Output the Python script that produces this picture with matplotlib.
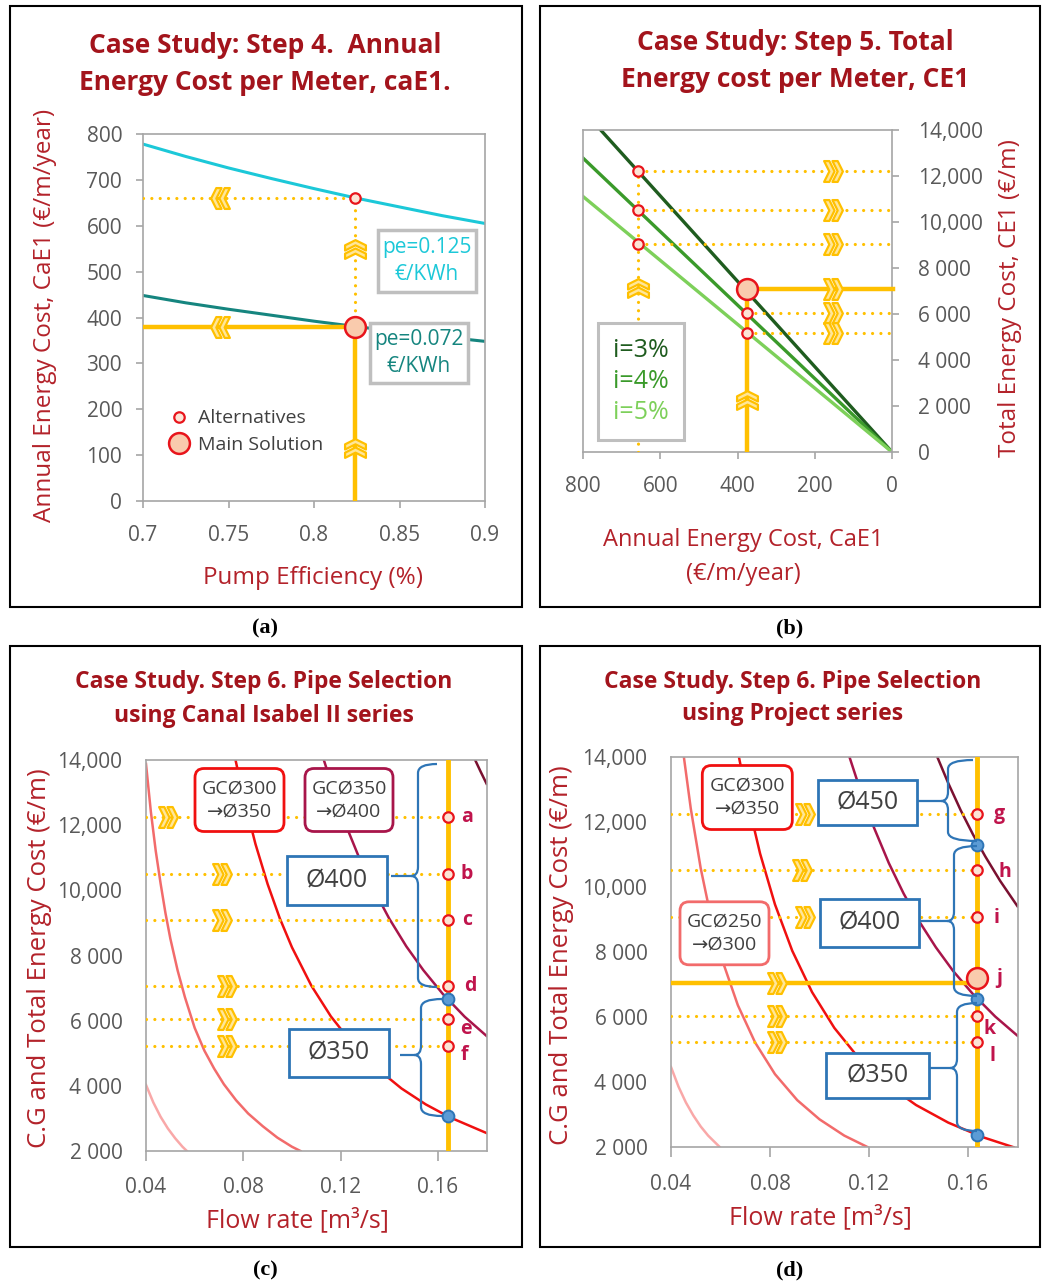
import matplotlib
matplotlib.use("Agg")
import matplotlib.pyplot as plt
from matplotlib.path import Path
from matplotlib.patches import FancyBboxPatch, PathPatch, Rectangle

plt.rcParams['font.family'] = ['Open Sans', 'DejaVu Sans']

W, H = 1042, 1283

# ---------------- data (a): annual energy cost vs pump efficiency
eff = [0.700, 0.725, 0.750, 0.775, 0.800, 0.825, 0.850, 0.875, 0.900]
cae_pe125 = [778, 751, 726, 703, 681, 660, 641, 622, 605]
cae_pe072 = [448, 432, 418, 405, 392, 380, 369, 358, 348]
eff_sel = 0.824
cae_alt = 660
cae_main = 380
chev_a_left_x = 0.745
chev_a_up_y = [550, 115]

# ---------------- data (b): total energy cost vs annual energy cost
cae_axis = [800, 0]
ce_i3 = [14850, 0]
ce_i4 = [12780, 0]
ce_i5 = [11110, 0]
cae_alt_b = 657
ce_alt_b = [12230, 10510, 9050]
cae_main_b = 376
ce_main_b = 7080
ce_sel_b = [6040, 5190]
chev_b_right_x = 153
chev_b_up = [(657, 7130), (376, 2260)]

# ---------------- data (c): Canal Isabel II series
q_c1 = [0.040, 0.043, 0.046, 0.049, 0.052, 0.055, 0.0568]
v_c1 = [4030, 3490, 3050, 2690, 2390, 2130, 2000]
q_c2 = [0.040, 0.042, 0.044, 0.046, 0.048, 0.050, 0.053, 0.056, 0.060, 0.064, 0.068, 0.072,
        0.077, 0.082, 0.088, 0.094, 0.1000, 0.1035]
v_c2 = [13880, 12410, 11210, 10210, 9300, 8520, 7540, 6720, 5780, 5080, 4530, 4050,
        3560, 3150, 2760, 2410, 2130, 2000]
q_c3 = [0.0768, 0.080, 0.085, 0.090, 0.095, 0.100, 0.108, 0.116, 0.125, 0.135, 0.145, 0.155, 0.165, 0.180]
v_c3 = [14000, 12890, 11420, 10190, 9140, 8250, 7070, 6130, 5280, 4530, 3920, 3430, 3030, 2550]
q_c4 = [0.1131, 0.117, 0.122, 0.128, 0.134, 0.140, 0.147, 0.154, 0.162, 0.171, 0.180]
v_c4 = [14000, 13080, 12030, 10930, 9970, 9130, 8280, 7550, 6820, 6120, 5530]
q_c5 = [0.1753, 0.1775, 0.180]
v_c5 = [14000, 13650, 13270]
q_sel_c = 0.164
v_pts_c = [12250, 10500, 9080, 7060, 6050, 5230]
lab_pts_c = ['a', 'b', 'c', 'd', 'e', 'f']
v_blue_c = [6660, 3080]
chev_c_x = [0.049, 0.0711, 0.0711, 0.0734, 0.0734, 0.0734]

# ---------------- data (d): Project series
q_d1 = [0.040, 0.043, 0.046, 0.049, 0.052, 0.055, 0.0598]
v_d1 = [4470, 3870, 3380, 2980, 2640, 2360, 2000]
q_d2 = [0.0452, 0.048, 0.052, 0.056, 0.061, 0.067, 0.074, 0.082, 0.091, 0.100, 0.110, 0.1196]
v_d2 = [14000, 12410, 10580, 9120, 7690, 6370, 5220, 4250, 3450, 2860, 2360, 2000]
q_d3 = [0.0675, 0.071, 0.076, 0.082, 0.089, 0.097, 0.106, 0.116, 0.127, 0.139, 0.152, 0.166, 0.1785]
v_d3 = [13980, 12640, 11030, 9470, 8040, 6770, 5670, 4730, 3950, 3300, 2760, 2310, 2000]
q_d4 = [0.1122, 0.117, 0.122, 0.128, 0.134, 0.140, 0.147, 0.154, 0.162, 0.171, 0.180]
v_d4 = [13980, 12860, 11830, 10740, 9800, 8980, 8150, 7420, 6710, 6020, 5430]
q_d5 = [0.1476, 0.152, 0.157, 0.162, 0.167, 0.173, 0.180]
v_d5 = [14000, 13200, 12370, 11620, 10940, 10190, 9410]
q_sel_d = 0.1636
v_pts_d = [12250, 10520, 9080, 6050, 5230]
lab_pts_d = ['g', 'h', 'i', 'k', 'l']
v_main_d = 7200
v_main_line_d = 7040
v_blue_d = [11290, 6560, 2390]
chev_d_x = [0.0941, 0.0929, 0.0941, 0.0827, 0.0827]
chev_d_main_x = 0.0827

ytick_vals = [0, 2000, 4000, 6000, 8000, 10000, 12000, 14000]
ytick_labs = ['0', '2 000', '4 000', '6 000', '8 000', '10,000', '12,000', '14,000']

# ---------------- styles
GOLD = '#FFC000'
RED = '#E8141B'
ALT_FC = '#FCE4D6'
MAIN_FC = '#F9CBAD'
BLUE_FC = '#5B9BD5'
BLUE = '#2E75B6'
TITLE_C = '#A3141C'
LABEL_C = '#B3222A'
TICK_C = '#595959'
SPINE_C = '#A6A6A6'
LETTER_C = '#C0144C'
DOT = (0, (0.01, 2.6))

fig = plt.figure(figsize=(W / 100, H / 100), dpi=100)
fig.patch.set_facecolor('white')


def P(x, y):
    return x / W, 1 - y / H


def I(x, y):
    return x / 100, (H - y) / 100


def axes_px(l, t, r, b):
    return fig.add_axes([l / W, 1 - b / H, (r - l) / W, (b - t) / H])


def chevron(direction):
    base = [(-0.5, 1), (0.0, 1), (0.5, 0), (0.0, -1), (-0.5, -1), (0.0, 0)]
    verts, codes = [], []
    for dx in (-0.4, 0.4):
        pts = [(x + dx, y) for x, y in base]
        if direction == 'left':
            pts = [(-x, y) for x, y in pts]
        elif direction == 'up':
            pts = [(y, x) for x, y in pts]
        verts += pts + [pts[0]]
        codes += [Path.MOVETO] + [Path.LINETO] * 5 + [Path.CLOSEPOLY]
    return Path(verts, codes)


def chev(ax, x, y, direction):
    ax.plot(x, y, linestyle='none', marker=chevron(direction), ms=15,
            mfc='#FFE699', mec=GOLD, mew=1.6, zorder=6)


def style(ax):
    for s in ax.spines.values():
        s.set_color(SPINE_C)
        s.set_linewidth(1.2)
    ax.tick_params(colors=SPINE_C, labelcolor=TICK_C, labelsize=15, length=5, width=1.2)


def dotted(ax, x, y):
    ax.plot(x, y, color=GOLD, lw=2.3, linestyle=DOT, dash_capstyle='round', zorder=3)


def box(cx, cy, w, h, text, ec, tc, fs, rounded=False, lw=2):
    bs = 'round,pad=0,rounding_size=0.09' if rounded else 'square,pad=0'
    x0, y0 = I(cx - w / 2, cy + h / 2)
    fig.add_artist(FancyBboxPatch((x0, y0), w / 100, h / 100, boxstyle=bs,
                                  transform=fig.dpi_scale_trans, fc='white',
                                  ec=ec, lw=lw, zorder=5))
    fig.text(*P(cx, cy), text, ha='center', va='center', color=tc, fontsize=fs,
             linespacing=1.35, zorder=6)


def brace(xs, yt, yb, ytip, xht, xhb, xline, r=9, tip=7):
    pts = [(xht, yt), (xs, yt), (xs, yt + r), (xs, ytip - r), (xs, ytip), (xs - tip, ytip),
           (xline, ytip), (xs - tip, ytip), (xs, ytip), (xs, ytip + r), (xs, yb - r),
           (xs, yb), (xhb, yb)]
    codes = [Path.MOVETO, Path.CURVE3, Path.CURVE3, Path.LINETO, Path.CURVE3, Path.CURVE3,
             Path.LINETO, Path.MOVETO, Path.CURVE3, Path.CURVE3, Path.LINETO,
             Path.CURVE3, Path.CURVE3]
    path = Path([I(x, y) for x, y in pts], codes)
    fig.add_artist(PathPatch(path, transform=fig.dpi_scale_trans, fill=False,
                             ec=BLUE, lw=1.6, zorder=4))


# ---------------- frames, titles, captions
for l, t, r, b in [(10, 6, 522, 607), (540, 6, 1040, 607), (10, 646, 522, 1247), (540, 646, 1040, 1247)]:
    fig.add_artist(Rectangle(I(l, b), (r - l) / 100, (b - t) / 100, transform=fig.dpi_scale_trans,
                             fill=False, ec='black', lw=1.5, zorder=0))

fig.text(*P(265, 64), 'Case Study: Step 4.  Annual\nEnergy Cost per Meter, caE1.', ha='center',
         va='center', color=TITLE_C, fontsize=19, fontweight='bold', linespacing=1.5)
fig.text(*P(795, 61), 'Case Study: Step 5. Total\nEnergy cost per Meter, CE1', ha='center',
         va='center', color=TITLE_C, fontsize=19, fontweight='bold', linespacing=1.5)
fig.text(*P(264, 699), 'Case Study. Step 6. Pipe Selection\nusing Canal Isabel II series', ha='center',
         va='center', color=TITLE_C, fontsize=16.5, fontweight='bold', linespacing=1.5)
fig.text(*P(793, 698), 'Case Study. Step 6. Pipe Selection\nusing Project series', ha='center',
         va='center', color=TITLE_C, fontsize=16.5, fontweight='bold', linespacing=1.5)

for (cx, cy), lab in zip([(265, 628), (790, 628), (265, 1270), (790, 1270)], 'abcd'):
    fig.text(*P(cx, cy), '(' + lab + ')', ha='center', va='center', fontsize=16,
             fontweight='bold', family='Liberation Serif')

# ---------------- panel (a)
ax = axes_px(143, 134, 485, 501)
style(ax)
ax.plot(eff, cae_pe125, color='#1CC8D8', lw=2.2, zorder=2)
ax.plot(eff, cae_pe072, color='#15857F', lw=2.2, zorder=2)
dotted(ax, [0.7, eff_sel], [cae_alt, cae_alt])
dotted(ax, [eff_sel, eff_sel], [cae_main, cae_alt])
ax.plot([0.7, eff_sel], [cae_main, cae_main], color=GOLD, lw=3.2, zorder=3)
ax.plot([eff_sel, eff_sel], [0, cae_main], color=GOLD, lw=3.2, zorder=3)
chev(ax, [chev_a_left_x] * 2, [cae_alt, cae_main], 'left')
chev(ax, [eff_sel] * 2, chev_a_up_y, 'up')
h_alt, = ax.plot([eff_sel], [cae_alt], 'o', ms=7.5, mfc=ALT_FC, mec=RED, mew=1.6, zorder=7,
                 label='Alternatives')
h_main, = ax.plot([eff_sel], [cae_main], 'o', ms=15, mfc=MAIN_FC, mec=RED, mew=1.8, zorder=7,
                  label='Main Solution')
ax.set_xlim(0.7, 0.9)
ax.set_ylim(0, 800)
ax.set_xticks([0.7, 0.75, 0.8, 0.85, 0.9], ['0.7', '0.75', '0.8', '0.85', '0.9'])
ax.set_yticks(range(0, 801, 100))
ax.tick_params(axis='x', pad=12)
ax.tick_params(axis='y', pad=10)
leg = ax.legend(handles=[h_alt, h_main], loc='lower left', bbox_to_anchor=(0.02, 0.08),
                frameon=False, fontsize=14, handlelength=1.2, handletextpad=0.4,
                labelspacing=0.45, labelcolor='#404040', numpoints=1)
box(427, 261, 98, 62, 'pe=0.125\n€/KWh', '#BFBFBF', '#1CC8D8', 15, lw=2.5)
box(419, 353, 98, 60, 'pe=0.072\n€/KWh', '#BFBFBF', '#15857F', 15, lw=2.5)
fig.text(*P(45, 315), 'Annual Energy Cost, CaE1 (€/m/year)', rotation=90, ha='center',
         va='center', color=LABEL_C, fontsize=17.5)
fig.text(*P(313, 578), 'Pump Efficiency (%)', ha='center', va='center', color=LABEL_C, fontsize=17.5)

# ---------------- panel (b)
ax = axes_px(583, 130, 892, 452)
style(ax)
l3, = ax.plot(cae_axis, ce_i3, color='#1F5C1F', lw=2.4, label='i=3%', zorder=2)
l4, = ax.plot(cae_axis, ce_i4, color='#3A9A2A', lw=2.4, label='i=4%', zorder=2)
l5, = ax.plot(cae_axis, ce_i5, color='#7DD05A', lw=2.4, label='i=5%', zorder=2)
dotted(ax, [cae_alt_b, cae_alt_b], [0, ce_alt_b[0]])
for v in ce_alt_b:
    dotted(ax, [cae_alt_b, 0], [v, v])
for v in ce_sel_b:
    dotted(ax, [cae_main_b, 0], [v, v])
ax.plot([cae_main_b, cae_main_b], [0, ce_main_b], color=GOLD, lw=3.2, zorder=3)
ax.plot([cae_main_b, -3], [ce_main_b, ce_main_b], color=GOLD, lw=3.2, zorder=3, clip_on=False)
chev(ax, [chev_b_right_x] * 6, ce_alt_b + [ce_main_b] + ce_sel_b, 'right')
chev(ax, [p[0] for p in chev_b_up], [p[1] for p in chev_b_up], 'up')
ax.plot([cae_alt_b] * 3, ce_alt_b, 'o', ms=7.5, mfc=ALT_FC, mec=RED, mew=1.6, zorder=7)
ax.plot([cae_main_b] * 2, ce_sel_b, 'o', ms=7.5, mfc=ALT_FC, mec=RED, mew=1.6, zorder=7)
ax.plot([cae_main_b], [ce_main_b], 'o', ms=15, mfc=MAIN_FC, mec=RED, mew=1.8, zorder=7)
ax.set_xlim(800, 0)
ax.set_ylim(0, 14000)
ax.set_xticks([800, 600, 400, 200, 0])
ax.set_yticks(ytick_vals, ytick_labs)
ax.yaxis.tick_right()
ax.tick_params(axis='x', pad=12)
ax.tick_params(axis='y', pad=14)
leg = ax.legend(handles=[l3, l4, l5], loc='lower left', bbox_to_anchor=(0.049, 0.037),
                borderaxespad=0, fontsize=18, handlelength=0, handletextpad=0,
                labelcolor='linecolor', fancybox=False, edgecolor='#BFBFBF',
                borderpad=0.6, labelspacing=0.25, framealpha=1)
leg.get_frame().set_linewidth(2.2)
leg.set_zorder(8)
fig.text(*P(743, 557), 'Annual Energy Cost, CaE1\n(€/m/year)', ha='center', va='center',
         color=LABEL_C, fontsize=17, linespacing=1.5)
fig.text(*P(1010, 298), 'Total Energy Cost, CE1 (€/m)', rotation=90, ha='center', va='center',
         color=LABEL_C, fontsize=17.5)


# ---------------- panels (c) and (d)
def pipe_axes(ax):
    style(ax)
    ax.set_xlim(0.04, 0.18)
    ax.set_ylim(2000, 14000)
    ax.set_xticks([0.04, 0.08, 0.12, 0.16], ['0.04', '0.08', '0.12', '0.16'])
    ax.set_yticks(ytick_vals[1:], ytick_labs[1:])
    ax.tick_params(axis='x', length=7, pad=12)
    ax.tick_params(axis='y', length=0, pad=17)


ax = axes_px(146, 760, 486.6, 1151)
pipe_axes(ax)
ax.plot(q_c1, v_c1, color='#F9A8A8', lw=1.8)
ax.plot(q_c2, v_c2, color='#F26B6B', lw=1.8)
ax.plot(q_c3, v_c3, color='#F01010', lw=1.8)
ax.plot(q_c4, v_c4, color='#A8154A', lw=1.8)
ax.plot(q_c5, v_c5, color='#7A1030', lw=1.8)
ax.axvline(q_sel_c, color=GOLD, lw=3.5, zorder=3)
for v in v_pts_c:
    dotted(ax, [0.04, q_sel_c], [v, v])
chev(ax, chev_c_x, v_pts_c, 'right')
ax.plot([q_sel_c] * 6, v_pts_c, 'o', ms=7.5, mfc=ALT_FC, mec=RED, mew=1.6, zorder=7)
ax.plot([q_sel_c] * 2, v_blue_c, 'o', ms=8.5, mfc=BLUE_FC, mec=BLUE, mew=1.4, zorder=7)
offs_c = [(14, 0), (14, 0), (14, 0), (16, 0), (13, -7), (12, -7)]
for lab, v, o in zip(lab_pts_c, v_pts_c, offs_c):
    ax.annotate(lab, (q_sel_c, v), xytext=o, textcoords='offset points', ha='center',
                va='center', color=LETTER_C, fontsize=14, fontweight='bold')
box(239.5, 800, 89, 63, 'GCØ300\n→Ø350', '#F01010', '#404040', 14, rounded=True)
box(349, 800, 88, 63, 'GCØ350\n→Ø400', '#A8154A', '#404040', 14, rounded=True)
box(337, 880.5, 100, 49, 'Ø400', BLUE, '#404040', 18)
box(339, 1053, 100, 48, 'Ø350', BLUE, '#404040', 18)
brace(418, 764, 987, 876, 437, 437, 391)
brace(421, 999, 1116, 1055, 442, 442, 400)
fig.text(*P(40, 958), 'C.G and Total Energy Cost (€/m)', rotation=90, ha='center', va='center',
         color=LABEL_C, fontsize=18.5)
fig.text(*P(297, 1220), 'Flow rate [m³/s]', ha='center', va='center', color=LABEL_C, fontsize=18)

ax = axes_px(671, 757, 1017.5, 1147.3)
pipe_axes(ax)
ax.plot(q_d1, v_d1, color='#F9A8A8', lw=1.8)
ax.plot(q_d2, v_d2, color='#F26B6B', lw=1.8)
ax.plot(q_d3, v_d3, color='#F01010', lw=1.8)
ax.plot(q_d4, v_d4, color='#A8154A', lw=1.8)
ax.plot(q_d5, v_d5, color='#7A1030', lw=1.8)
ax.axvline(q_sel_d, color=GOLD, lw=3.5, zorder=3)
for v in v_pts_d:
    dotted(ax, [0.04, q_sel_d], [v, v])
ax.plot([0.04, q_sel_d], [v_main_line_d] * 2, color=GOLD, lw=3.2, zorder=3)
chev(ax, chev_d_x + [chev_d_main_x], v_pts_d + [v_main_line_d], 'right')
ax.plot([q_sel_d] * 5, v_pts_d, 'o', ms=7.5, mfc=ALT_FC, mec=RED, mew=1.6, zorder=7)
ax.plot([q_sel_d], [v_main_d], 'o', ms=15, mfc=MAIN_FC, mec=RED, mew=1.8, zorder=7)
ax.plot([q_sel_d] * 3, v_blue_d, 'o', ms=8.5, mfc=BLUE_FC, mec=BLUE, mew=1.4, zorder=7)
offs_d = [(16, 0), (20, -1), (14, -1), (9, -10), (11, -10)]
for lab, v, o in zip(lab_pts_d, v_pts_d, offs_d):
    ax.annotate(lab, (q_sel_d, v), xytext=o, textcoords='offset points', ha='center',
                va='center', color=LETTER_C, fontsize=14, fontweight='bold')
ax.annotate('j', (q_sel_d, v_main_d), xytext=(16, 0), textcoords='offset points', ha='center',
            va='center', color=LETTER_C, fontsize=14, fontweight='bold')
box(747.3, 797.5, 90, 64, 'GCØ300\n→Ø350', '#F01010', '#404040', 14, rounded=True)
box(724.5, 933.3, 89, 63, 'GCØ250\n→Ø300', '#F26B6B', '#404040', 14, rounded=True)
box(867.8, 802.8, 99, 45, 'Ø450', BLUE, '#404040', 18)
box(869.7, 922.5, 99, 48, 'Ø400', BLUE, '#404040', 18)
box(877.7, 1075.5, 103, 45, 'Ø350', BLUE, '#404040', 18)
brace(948, 760, 841, 801, 973, 977, 917)
brace(954, 846, 996, 921, 977, 977, 919)
brace(957, 1003, 1131, 1068, 977, 977, 929)
fig.text(*P(562, 955), 'C.G and Total Energy Cost (€/m)', rotation=90, ha='center', va='center',
         color=LABEL_C, fontsize=18.5)
fig.text(*P(820, 1217), 'Flow rate [m³/s]', ha='center', va='center', color=LABEL_C, fontsize=18)

fig.savefig('out.png', dpi=100)
